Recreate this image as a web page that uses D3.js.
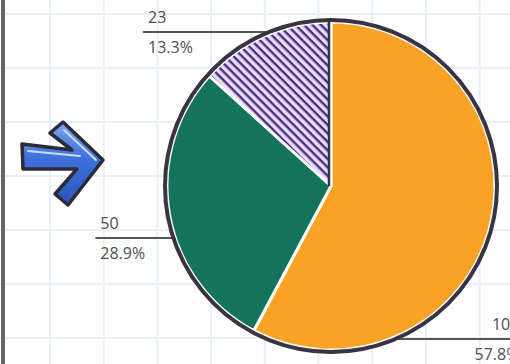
<!DOCTYPE html>
<html>
<head>
<meta charset="utf-8">
<script src="https://cdn.jsdelivr.net/npm/d3@7"></script>
<style>
  body { margin: 0; background: #fff; }
  svg { display: block; }
  .lbl { font-family: "Open Sans", sans-serif; font-size: 16px; fill: #4f4f4f; }
</style>
</head>
<body>
<div id="chart"></div>
<script>
// slice values, clockwise from 12 o'clock
var values = [100, 50, 23];
var fills = ["#f9a226", "#14735d", "url(#hatch)"];
// where each label line sits (vertical) and which side it goes to
var labelY = [339, 238, 32];
var labelSide = ["right", "left", "left"];
var labelLen = [128, 78, 126];

var width = 510, height = 364;
var cx = 331, cy = 186, r = 166;

var svg = d3.select("#chart").append("svg")
    .attr("width", width)
    .attr("height", height);

var defs = svg.append("defs");
var pat = defs.append("pattern")
    .attr("id", "hatch")
    .attr("patternUnits", "userSpaceOnUse")
    .attr("width", 6).attr("height", 6)
    .attr("patternTransform", "rotate(45)");
pat.append("rect").attr("width", 6).attr("height", 6).attr("fill", "#eadcf6");
pat.append("rect").attr("y", 0).attr("width", 6).attr("height", 2.4).attr("fill", "#4b2d82");

var grad = defs.append("linearGradient")
    .attr("id", "arrowGrad")
    .attr("x1", 0).attr("y1", 0).attr("x2", 0).attr("y2", 1);
grad.append("stop").attr("offset", "0%").attr("stop-color", "#7ba4f2");
grad.append("stop").attr("offset", "45%").attr("stop-color", "#3d6fdc");
grad.append("stop").attr("offset", "100%").attr("stop-color", "#2a55b8");

// graph paper grid
var gx = d3.range(50, width, 53.7);
var gy = d3.range(14, height, 54);
svg.append("g").selectAll("line").data(gx).enter().append("line")
    .attr("x1", function(d) { return d; }).attr("x2", function(d) { return d; })
    .attr("y1", 0).attr("y2", height)
    .attr("stroke", "#e8eff8").attr("stroke-width", 2);
svg.append("g").selectAll("line").data(gy).enter().append("line")
    .attr("y1", function(d) { return d; }).attr("y2", function(d) { return d; })
    .attr("x1", 0).attr("x2", width)
    .attr("stroke", "#e8eff8").attr("stroke-width", 2);

// left border
svg.append("rect").attr("x", 1).attr("y", 0).attr("width", 4).attr("height", height).attr("fill", "#666");

// arrow icon
svg.append("path")
    .attr("d", "M22,144 L72,150 L50,133 L63,122 L103,160 L68,205 L55,194 L77,169 L23,169 Z")
    .attr("fill", "url(#arrowGrad)")
    .attr("stroke", "#2b2b35")
    .attr("stroke-width", 3.5)
    .attr("stroke-linejoin", "round");
svg.append("path")
    .attr("d", "M28,151 L80,156 M64,130 L96,160")
    .attr("stroke", "#c9dbff").attr("stroke-width", 2).attr("fill", "none")
    .attr("stroke-linecap", "round");

// label lines (drawn under the pie)
var total = d3.sum(values);
var lg = svg.append("g");
values.forEach(function(v, i) {
    var dy = labelY[i] - cy;
    var edge = Math.sqrt(Math.max(0, r * r - dy * dy));
    var x0, x1, tx, anchor;
    if (labelSide[i] === "left") {
        x1 = cx - edge + 6; x0 = cx - edge - labelLen[i];
        tx = x0 + 5; anchor = "start";
    } else {
        x0 = cx + edge - 6; x1 = cx + edge + labelLen[i];
        tx = x1 - 4; anchor = "end";
    }
    lg.append("line")
        .attr("x1", x0).attr("x2", x1)
        .attr("y1", labelY[i]).attr("y2", labelY[i])
        .attr("stroke", "#555").attr("stroke-width", 2);
    lg.append("text").attr("class", "lbl")
        .attr("x", tx).attr("y", labelY[i] - 9)
        .attr("text-anchor", anchor)
        .text(v);
    lg.append("text").attr("class", "lbl")
        .attr("x", tx).attr("y", labelY[i] + 21)
        .attr("text-anchor", anchor)
        .text(d3.format(".1%")(v / total));
});

// pie
var pie = d3.pie().sort(null).value(function(d) { return d; });
var arc = d3.arc().innerRadius(0).outerRadius(r - 2);

var g = svg.append("g")
    .attr("transform", "translate(" + cx + "," + cy + ")");

g.selectAll("path.slice")
    .data(pie(values))
    .enter().append("path")
    .attr("class", "slice")
    .attr("d", arc)
    .attr("fill", function(d, i) { return fills[i]; })
    .attr("stroke", "#fff")
    .attr("stroke-width", 3)
    .attr("stroke-linejoin", "round");

// dark edge along the hatched slice's straight side
g.append("line")
    .attr("x1", -2).attr("y1", 0)
    .attr("x2", -2).attr("y2", -r)
    .attr("stroke", "#3a3342").attr("stroke-width", 2.5);

g.append("circle")
    .attr("r", r)
    .attr("fill", "none")
    .attr("stroke", "#3a3342")
    .attr("stroke-width", 4);
</script>
</body>
</html>
